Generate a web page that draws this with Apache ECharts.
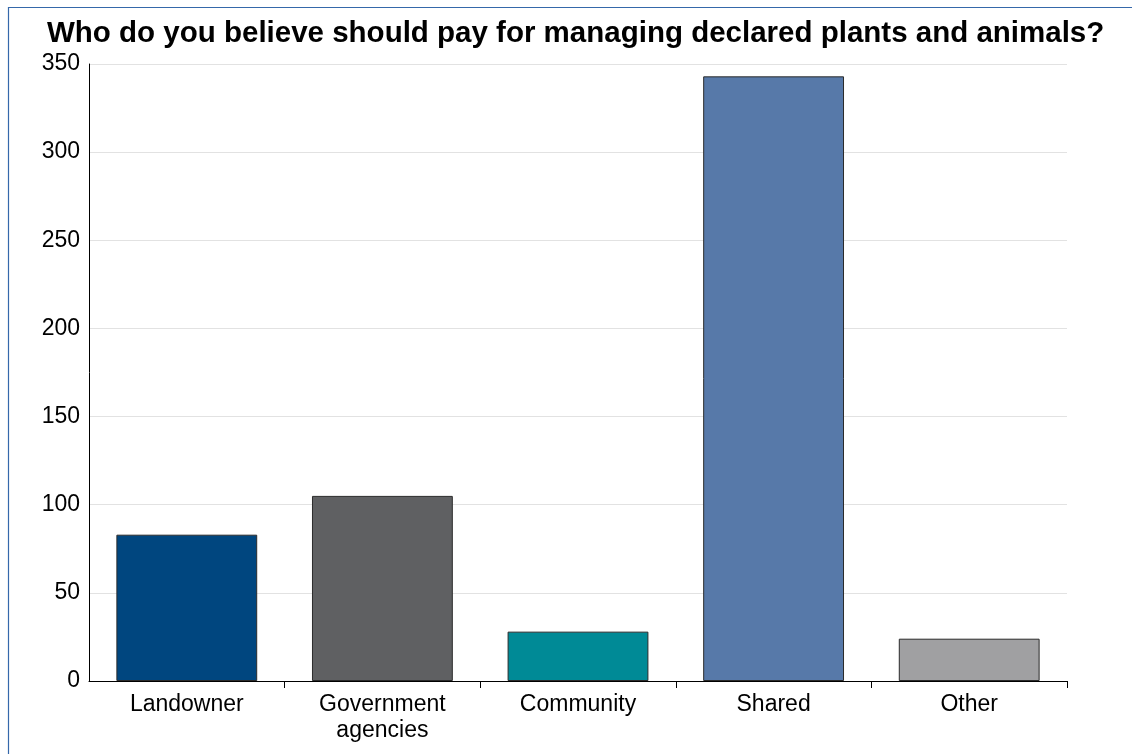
<!DOCTYPE html>
<html>
<head>
<meta charset="utf-8">
<title>Who should pay for managing declared plants and animals</title>
<script src="https://cdn.jsdelivr.net/npm/echarts@6/dist/echarts.min.js"></script>
<style>
  html, body { margin: 0; padding: 0; background: #ffffff; }
  #chart { width: 1132px; height: 754px; }
</style>
</head>
<body>
<div id="chart"></div>
<script>
// Survey responses: who should pay for managing declared plants and animals
const categories = ['Landowner', 'Government\nagencies', 'Community', 'Shared', 'Other'];
const responses = [83, 105, 28, 343, 24];
const barColors = ['#00467f', '#5f6062', '#008a96', '#5779a9', '#a0a0a2'];
const yTicks = [0, 50, 100, 150, 200, 250, 300, 350];

const chart = echarts.init(document.getElementById('chart'), null, { renderer: 'canvas' });

const fontFamily = '"Liberation Sans", Arial, sans-serif';

chart.setOption({
  backgroundColor: '#ffffff',
  animation: false,
  title: {
    text: 'Who do you believe should pay for managing declared plants and animals?',
    left: 42,
    top: 14,
    textStyle: {
      fontFamily: fontFamily,
      fontWeight: 'bold',
      fontSize: 29.5,
      color: '#000000'
    }
  },
  graphic: [{
    type: 'rect',
    left: 6,
    top: 5,
    shape: { width: 1200, height: 800 },
    style: { fill: 'none', stroke: '#3568aa', lineWidth: 1.2 },
    silent: true,
    z: 100
  }],
  grid: {
    left: 89,
    right: 65,
    top: 64,
    bottom: 73,
    containLabel: false
  },
  xAxis: {
    type: 'category',
    data: categories,
    boundaryGap: true,
    axisLine: { show: true, lineStyle: { color: '#000000', width: 1 } },
    axisTick: {
      show: true,
      inside: false,
      length: 7,
      // no tick where the x axis meets the y axis
      interval: function (index) { return index !== 0; },
      lineStyle: { color: '#000000', width: 1 }
    },
    axisLabel: {
      fontFamily: fontFamily,
      fontSize: 23,
      color: '#000000',
      margin: 11,
      lineHeight: 26,
      interval: 0
    },
    splitLine: { show: false }
  },
  yAxis: {
    type: 'value',
    min: yTicks[0],
    max: yTicks[yTicks.length - 1],
    interval: yTicks[1] - yTicks[0],
    axisLine: { show: true, lineStyle: { color: '#000000', width: 1 } },
    axisTick: { show: false },
    axisLabel: {
      fontFamily: fontFamily,
      fontSize: 23,
      color: '#000000',
      margin: 9
    },
    splitLine: { show: true, lineStyle: { color: '#e2e2e2', width: 1 } }
  },
  series: [{
    type: 'bar',
    barWidth: '72%',
    data: responses.map((v, i) => ({
      value: v,
      itemStyle: { color: barColors[i] }
    })),
    itemStyle: { borderColor: '#2b2b2b', borderWidth: 1 }
  }]
});
</script>
</body>
</html>
